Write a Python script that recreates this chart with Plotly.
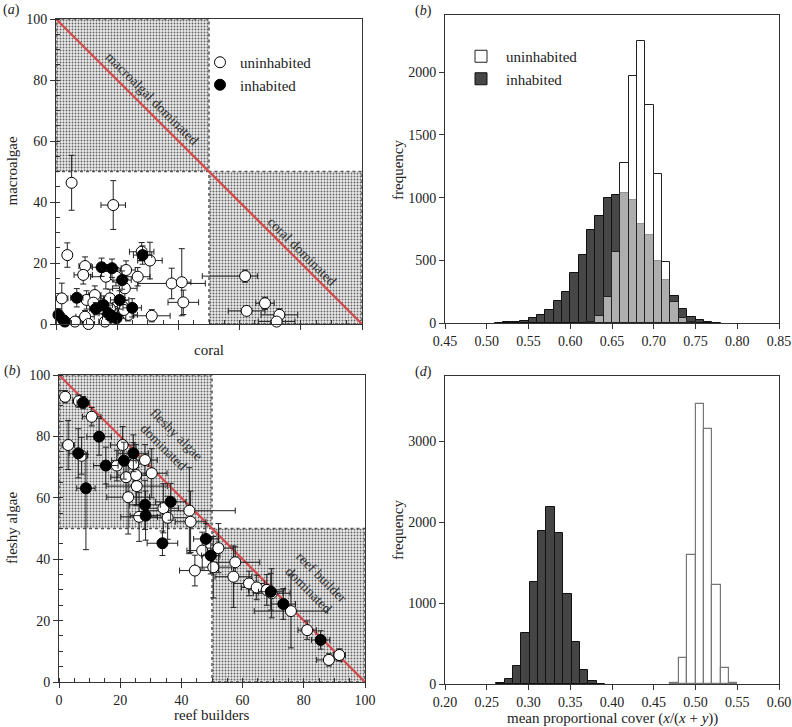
import plotly.graph_objects as go

# ---------------- Panel (a): coral vs macroalgae ----------------
a_un_x = [5.1, 18.7, 3.7, 9.5, 8.9, 16.3, 22.9, 19.6, 22.5, 26.7, 28.0, 30.7, 37.8, 41.1, 41.6, 31.3,
          1.9, 10.0, 9.5, 10.6, 6.2, 12.7, 16.0, 17.6, 21.8, 23.6, 12.2, 17.6, 22.2,
          61.8, 68.3, 62.3, 73.0, 72.1]
a_un_y = [46.3, 39.0, 22.6, 19.0, 16.1, 15.5, 17.7, 15.5, 11.7, 15.5, 23.7, 20.8, 13.3, 13.7, 7.1, 2.7,
          8.4, 7.9, 2.4, 0.0, 0.8, 9.5, 0.8, 8.4, 5.7, 3.0, 7.0, 5.1, 4.6,
          15.7, 6.8, 4.3, 3.0, 0.8]
a_un_xerr = [0, 4, 0, 2, 3, 5, 3, 3, 4, 4, 4, 4, 11, 3, 5, 6,
             2, 3, 3, 2, 2, 2, 2, 3, 3, 3, 2, 3, 3,
             4, 3, 6, 6, 6]
a_un_xerr_minus = [0, 4, 0, 2, 3, 5, 3, 3, 4, 4, 4, 4, 11, 3, 5, 6,
                   2, 3, 3, 2, 2, 2, 2, 3, 3, 3, 2, 3, 3,
                   14, 3, 6, 6, 6]
a_un_yerr = [9, 8, 4, 3, 3, 4, 3, 3, 4, 3, 3, 6, 5, 11, 4, 2,
             5, 3, 2, 1, 1, 3, 1, 3, 3, 2, 2, 2, 2,
             2, 2, 1, 2, 1]

a_in_x = [0.8, 2.4, 2.9, 6.8, 14.9, 18.3, 21.6, 28.3, 15.5, 17.1, 18.2, 19.8, 20.8, 24.9, 13.0]
a_in_y = [3.0, 1.3, 0.8, 8.6, 18.6, 18.3, 14.4, 22.6, 6.2, 3.5, 2.4, 1.9, 7.9, 5.3, 5.0]
a_in_xerr = [1, 1, 1, 2, 3, 3, 3, 3, 3, 3, 3, 3, 3, 3, 2]
a_in_yerr = [2, 1, 1, 3, 3, 3, 3, 3, 3, 2, 2, 2, 3, 3, 2]

# ---------------- Panel (b): histogram coral/(coral+macroalgae) ----------------
b_bin_width = 0.01
b_in_start = 0.51
b_in_counts = [3, 5, 8, 18, 40, 64, 100, 173, 245, 396, 542, 741, 850, 1001, 1022, 1038,
               983, 789, 701, 491, 345, 212, 112, 48, 24, 11, 3]
b_un_start = 0.62
b_un_counts = [8, 53, 205, 566, 1278, 1973, 2247, 1740, 1190, 483, 165, 37, 8]

# ---------------- Panel (c): reef builders vs fleshy algae ----------------
c_un_x = [2.0, 6.5, 10.7, 3.0, 7.4, 20.8, 18.9, 24.3, 28.1, 21.9, 25.2, 30.3, 25.4, 22.6, 26.2, 34.1,
          35.5, 42.6, 43.0, 46.8, 52.1, 44.4, 50.4, 57.6, 57.0, 62.1, 64.6, 67.9, 69.5, 75.8, 81.1,
          88.2, 91.6]
c_un_y = [92.9, 91.5, 86.4, 77.2, 73.7, 77.2, 70.5, 71.0, 72.3, 66.7, 67.4, 68.0, 63.8, 60.2, 53.8, 56.6,
          53.5, 55.8, 52.2, 42.8, 43.6, 36.3, 37.4, 39.0, 34.3, 32.1, 30.8, 30.0, 28.9, 23.1, 16.9,
          7.2, 8.8]
c_un_xerr = [1, 2, 3, 2, 2, 4, 4, 5, 4, 5, 6, 5, 10, 7, 6, 5,
             7, 15, 5, 5, 5, 5, 6, 8, 6, 5, 5, 6, 6, 12, 3,
             4, 2]
c_un_yerr = [2, 2, 3, 8, 6, 6, 5, 7, 5, 6, 10, 8, 6, 12, 8, 8,
             7, 14, 10, 6, 8, 5, 10, 5, 10, 4, 4, 5, 8, 12, 3,
             2, 2]

c_in_x = [7.9, 13.1, 6.3, 8.8, 15.3, 24.3, 21.2, 28.1, 28.3, 36.5, 33.8, 48.0, 49.6, 69.2, 73.3, 85.5]
c_in_y = [91.0, 79.9, 74.5, 63.1, 70.5, 74.5, 72.1, 57.7, 54.2, 58.7, 45.2, 46.6, 41.2, 29.4, 25.4, 13.7]
c_in_xerr = [2, 4, 3, 3, 4, 5, 4, 5, 5, 5, 5, 4, 3, 4, 4, 3]
c_in_yerr = [2, 6, 8, 11, 6, 6, 6, 8, 8, 6, 4, 5, 6, 6, 5, 3]
c_in_yerr_minus = [2, 6, 8, 20, 6, 6, 6, 8, 8, 6, 4, 5, 6, 6, 5, 3]

# ---------------- Panel (d): histogram reef/(reef+fleshy) ----------------
d_bin_width = 0.01
d_in_start = 0.2615
d_in_counts = [8, 62, 218, 634, 1267, 1897, 2189, 1872, 1107, 514, 173, 33, 2]
d_un_start = 0.47
d_un_counts = [16, 317, 1597, 3465, 3156, 1226, 193, 16]

FONT = "Liberation Serif"
W, H = 792, 727

fig = go.Figure()

# stippled "dominated" regions (panels a and c)
regions = [([0, 50, 50, 0, 0], [50, 50, 100, 100, 50]), ([50, 100, 100, 50, 50], [0, 0, 50, 50, 0])]
for xa, ya in (("x", "y"), ("x3", "y3")):
    for rx, ry in regions:
        fig.add_trace(go.Scatter(
            x=rx, y=ry, xaxis=xa, yaxis=ya, mode="lines", fill="toself",
            fillcolor="#e0e0e0",
            fillpattern=dict(shape=".", bgcolor="#ebebeb", fgcolor="#626262", size=3, solidity=0.3),
            line=dict(color="#555", width=1.5, dash="dot"),
            hoverinfo="skip", showlegend=False))
    fig.add_trace(go.Scatter(x=[0, 100], y=[100, 0], xaxis=xa, yaxis=ya, mode="lines",
                             line=dict(color="#d5484a", width=2.2), hoverinfo="skip", showlegend=False))


def pts(x, y, ex, ey, filled, xa, ya, name, show, exm=None, eym=None):
    fig.add_trace(go.Scatter(
        x=x, y=y, xaxis=xa, yaxis=ya, mode="markers", name=name, showlegend=show, legend="legend",
        cliponaxis=False,
        marker=dict(symbol="circle", size=11, color="black" if filled else "white",
                    line=dict(color="black", width=1)),
        error_x=dict(type="data", array=ex, arrayminus=exm if exm is not None else ex,
                     symmetric=False, color="#222", thickness=1, width=3),
        error_y=dict(type="data", array=ey, arrayminus=eym if eym is not None else ey,
                     symmetric=False, color="#222", thickness=1, width=3)))


pts(a_un_x, a_un_y, a_un_xerr, a_un_yerr, False, "x", "y", "uninhabited", True, exm=a_un_xerr_minus)
pts(a_in_x, a_in_y, a_in_xerr, a_in_yerr, True, "x", "y", "inhabited", True)
pts(c_un_x, c_un_y, c_un_xerr, c_un_yerr, False, "x3", "y3", "uninhabited", False)
pts(c_in_x, c_in_y, c_in_xerr, c_in_yerr, True, "x3", "y3", "inhabited", False, eym=c_in_yerr_minus)


def centers(start, counts, w):
    return [start + w * (i + 0.5) for i in range(len(counts))]


fig.add_trace(go.Bar(x=centers(b_in_start, b_in_counts, b_bin_width), y=b_in_counts, width=b_bin_width,
                     xaxis="x2", yaxis="y2", name="inhabited", legend="legend2", showlegend=True,
                     marker=dict(color="#474747", line=dict(color="#111", width=1))))
fig.add_trace(go.Bar(x=centers(b_un_start, b_un_counts, b_bin_width), y=b_un_counts, width=b_bin_width,
                     xaxis="x2", yaxis="y2", name="uninhabited", legend="legend2", showlegend=True,
                     marker=dict(color="rgba(255,255,255,0.56)", line=dict(color="#222", width=1))))
fig.add_trace(go.Bar(x=centers(d_in_start, d_in_counts, d_bin_width), y=d_in_counts, width=d_bin_width,
                     xaxis="x4", yaxis="y4", showlegend=False,
                     marker=dict(color="#454545", line=dict(color="#111", width=1))))
fig.add_trace(go.Bar(x=centers(d_un_start, d_un_counts, d_bin_width), y=d_un_counts, width=d_bin_width,
                     xaxis="x4", yaxis="y4", showlegend=False,
                     marker=dict(color="white", line=dict(color="#777", width=1.2))))


def px_x(p):
    return p / W


def px_y(p):
    return 1 - p / H


axis_common = dict(showline=True, linecolor="#333", linewidth=1, mirror=True, ticks="outside",
                   ticklen=5, tickcolor="#333", showgrid=False, zeroline=False, automargin=False,
                   tickfont=dict(family=FONT, size=14, color="#222"))
minor = dict(ticks="inside", ticklen=4, dtick=5, tickcolor="#333", showgrid=False)

fig.update_layout(
    width=W, height=H, margin=dict(l=0, r=0, t=0, b=0), template="none",
    plot_bgcolor="white", paper_bgcolor="white", barmode="overlay", bargap=0,
    font=dict(family=FONT, size=14, color="#222"),
    xaxis=dict(domain=[px_x(56), px_x(362)], range=[0, 100], anchor="y", dtick=20,
               showticklabels=False, minor=minor, **axis_common),
    yaxis=dict(domain=[px_y(324), px_y(19)], range=[0, 100], anchor="x", dtick=20, minor=minor,
               **axis_common),
    xaxis2=dict(domain=[px_x(445), px_x(779)], range=[0.45, 0.85], anchor="y2", dtick=0.05,
                tickformat=".2f", **axis_common),
    yaxis2=dict(domain=[px_y(323), px_y(15)], range=[0, 2457], anchor="x2", dtick=500, **axis_common),
    xaxis3=dict(domain=[px_x(59), px_x(365)], range=[0, 100], anchor="y3", dtick=20, minor=minor,
                **axis_common),
    yaxis3=dict(domain=[px_y(682), px_y(375)], range=[0, 100], anchor="x3", dtick=20, minor=minor,
                **axis_common),
    xaxis4=dict(domain=[px_x(445), px_x(779)], range=[0.2, 0.6], anchor="y4", dtick=0.05,
                tickformat=".2f", **axis_common),
    yaxis4=dict(domain=[px_y(684), px_y(376)], range=[0, 3807], anchor="x4", dtick=1000, **axis_common),
    legend=dict(x=px_x(200), y=px_y(46), xanchor="left", yanchor="top", bgcolor="rgba(0,0,0,0)",
                font=dict(family=FONT, size=15, color="#222"), tracegroupgap=0, itemwidth=30),
    legend2=dict(x=px_x(456), y=px_y(40), xanchor="left", yanchor="top", bgcolor="rgba(0,0,0,0)",
                 font=dict(family=FONT, size=15, color="#222"), traceorder="reversed", itemwidth=40),
)

ann = []


def paper_text(text, x, y, size=15, angle=0):
    ann.append(dict(text=text, x=px_x(x), y=px_y(y), xref="paper", yref="paper", showarrow=False,
                    textangle=angle, font=dict(family=FONT, size=size, color="#222"),
                    xanchor="center", yanchor="middle"))


paper_text("(<i>a</i>)", 11, 10, 14)
paper_text("(<i>b</i>)", 423, 11, 14)
paper_text("(<i>b</i>)", 12, 371, 14)
paper_text("(<i>d</i>)", 423, 372, 14)
paper_text("macroalgae", 12, 171.5, 15, -90)
paper_text("coral", 209, 350, 15)
paper_text("frequency", 398, 170, 15, -90)
paper_text("fleshy algae", 12, 528, 15, -90)
paper_text("reef builders", 212, 715, 15)
paper_text("frequency", 398, 530, 15, -90)
paper_text("mean proportional cover (<i>x</i>/(<i>x</i> + <i>y</i>))", 612, 718, 15)


def data_text(text, x, y, xr, yr):
    ann.append(dict(text=text, x=x, y=y, xref=xr, yref=yr, showarrow=False, textangle=45,
                    font=dict(family=FONT, size=14, color="#333"), xanchor="center", yanchor="middle"))


data_text("macroalgal dominated", 31.4, 74.1, "x", "y")
data_text("coral dominated", 80.4, 23.9, "x", "y")
data_text("fleshy algae<br>dominated", 36.3, 78.8, "x3", "y3")
data_text("reef builder<br>dominated", 83.7, 32.2, "x3", "y3")

fig.update_layout(annotations=ann)
fig.write_html("out.html", config={"displayModeBar": False},
               post_script="document.body.style.margin='0';document.body.style.overflow='hidden';")
